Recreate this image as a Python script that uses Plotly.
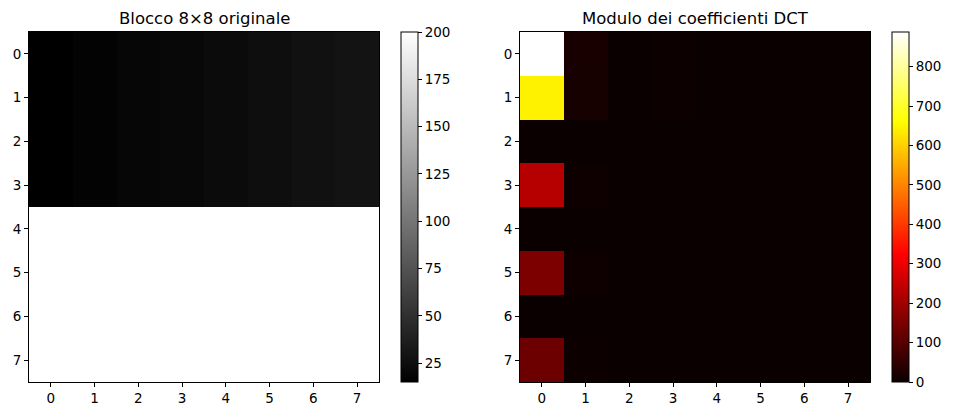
import plotly.graph_objects as go

W, H = 957, 416

# Original 8x8 block (rows 0..7, cols 0..7)
block = [
    [15, 17, 19, 21, 23, 25, 27, 29],
    [15, 17, 19, 21, 23, 25, 27, 29],
    [15, 17, 19, 21, 23, 25, 27, 29],
    [15, 17, 19, 21, 23, 25, 27, 29],
    [200, 200, 200, 200, 200, 200, 200, 200],
    [200, 200, 200, 200, 200, 200, 200, 200],
    [200, 200, 200, 200, 200, 200, 200, 200],
    [200, 200, 200, 200, 200, 200, 200, 200],
]

# Magnitude of DCT coefficients
dct_mag = [
    [888.0, 18.2, 0.0, 1.9, 0.0, 0.57, 0.0, 0.14],
    [645.0, 16.5, 0.0, 1.73, 0.0, 0.51, 0.0, 0.13],
    [0.0, 0.0, 0.0, 0.0, 0.0, 0.0, 0.0, 0.0],
    [226.6, 5.8, 0.0, 0.61, 0.0, 0.18, 0.0, 0.05],
    [0.0, 0.0, 0.0, 0.0, 0.0, 0.0, 0.0, 0.0],
    [151.1, 3.9, 0.0, 0.41, 0.0, 0.12, 0.0, 0.03],
    [0.0, 0.0, 0.0, 0.0, 0.0, 0.0, 0.0, 0.0],
    [128.4, 3.3, 0.0, 0.34, 0.0, 0.10, 0.0, 0.03],
]

idx = list(range(8))
tick_labels = [str(i) for i in idx]
gray_ticks = [25, 50, 75, 100, 125, 150, 175, 200]
hot_ticks = [0, 100, 200, 300, 400, 500, 600, 700, 800]

titles = ["Blocco 8×8 originale", "Modulo dei coefficienti DCT"]

gray_scale = [[0, "rgb(0,0,0)"], [1, "rgb(255,255,255)"]]
hot_scale = [
    [0.0, "rgb(11,0,0)"],
    [0.365079, "rgb(255,0,0)"],
    [0.746032, "rgb(255,255,0)"],
    [1.0, "rgb(255,255,255)"],
]

FONT = "DejaVu Sans"
TICKFONT = dict(family=FONT, size=13.5, color="black")

# pixel geometry
top, bottom = 32, 382
ax1 = (29, 379)
ax2 = (520, 870)
cb1_x = 401
cb2_x = 892
cb_thick = 17

def px(x):
    return x / W

def py(y):
    return 1 - y / H

fig = go.Figure()

fig.add_trace(go.Heatmap(
    z=block, x=idx, y=idx, colorscale=gray_scale, zmin=15, zmax=200,
    xaxis="x", yaxis="y", hoverinfo="skip",
    colorbar=dict(
        x=px(cb1_x), xanchor="left", xref="paper",
        y=py((top + bottom) / 2), yanchor="middle",
        len=bottom - top, lenmode="pixels",
        thickness=cb_thick, thicknessmode="pixels",
        xpad=0, ypad=0, outlinewidth=1, outlinecolor="black",
        tickvals=gray_ticks, ticks="outside", ticklen=4, tickcolor="black",
        tickfont=TICKFONT,
    ),
))

fig.add_trace(go.Heatmap(
    z=dct_mag, x=idx, y=idx, colorscale=hot_scale, zmin=0, zmax=888,
    xaxis="x2", yaxis="y2", hoverinfo="skip",
    colorbar=dict(
        x=px(cb2_x), xanchor="left", xref="paper",
        y=py((top + bottom) / 2), yanchor="middle",
        len=bottom - top, lenmode="pixels",
        thickness=cb_thick, thicknessmode="pixels",
        xpad=0, ypad=0, outlinewidth=1, outlinecolor="black",
        tickvals=hot_ticks, ticks="outside", ticklen=4, tickcolor="black",
        tickfont=TICKFONT,
    ),
))

axis_common = dict(
    showgrid=False, zeroline=False, showline=True, mirror=True,
    linecolor="black", linewidth=1, ticks="outside", ticklen=4,
    tickcolor="black", tickfont=TICKFONT, tickvals=idx, ticktext=tick_labels,
)

fig.update_layout(
    width=W, height=H,
    margin=dict(l=0, r=0, t=0, b=0),
    paper_bgcolor="white", plot_bgcolor="white",
    showlegend=False,
    xaxis=dict(domain=[px(ax1[0]), px(ax1[1])], range=[-0.5, 7.5], anchor="y", **axis_common),
    yaxis=dict(domain=[py(bottom), py(top)], range=[7.5, -0.5], anchor="x", **axis_common),
    xaxis2=dict(domain=[px(ax2[0]), px(ax2[1])], range=[-0.5, 7.5], anchor="y2", **axis_common),
    yaxis2=dict(domain=[py(bottom), py(top)], range=[7.5, -0.5], anchor="x2", **axis_common),
)

for (a, b), t in zip([ax1, ax2], titles):
    fig.add_annotation(
        text=t, x=px((a + b) / 2), y=py(19), xref="paper", yref="paper",
        xanchor="center", yanchor="middle", showarrow=False,
        font=dict(family=FONT, size=16.5, color="black"),
    )

fig.write_html(
    "out.html",
    config={"displayModeBar": False},
    post_script="document.body.style.margin='0px';document.body.style.overflow='hidden';",
)
